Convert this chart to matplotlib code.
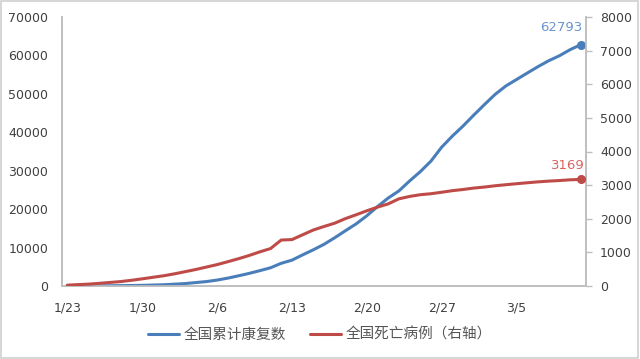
import matplotlib
matplotlib.use("Agg")
import matplotlib.pyplot as plt
from matplotlib.patches import Rectangle

plt.rcParams['font.family'] = ['DejaVu Sans', 'Noto Sans CJK SC']

dates = ['1/23', '1/24', '1/25', '1/26', '1/27', '1/28', '1/29', '1/30', '1/31',
         '2/1', '2/2', '2/3', '2/4', '2/5', '2/6', '2/7', '2/8', '2/9', '2/10',
         '2/11', '2/12', '2/13', '2/14', '2/15', '2/16', '2/17', '2/18', '2/19',
         '2/20', '2/21', '2/22', '2/23', '2/24', '2/25', '2/26', '2/27', '2/28',
         '2/29', '3/1', '3/2', '3/3', '3/4', '3/5', '3/6', '3/7', '3/8', '3/9',
         '3/10', '3/11']
recovered = [34, 38, 49, 51, 60, 103, 124, 171, 243, 328, 475, 632, 892, 1153,
             1540, 2050, 2649, 3281, 3996, 4740, 5911, 6723, 8096, 9419, 10844,
             12552, 14376, 16155, 18264, 20659, 22888, 24734, 27323, 29745,
             32495, 36117, 39002, 41625, 44462, 47204, 49856, 52045, 53726,
             55404, 57065, 58600, 59897, 61475, 62793]
deaths = [25, 41, 56, 80, 106, 132, 170, 213, 259, 304, 361, 425, 490, 563, 636,
          722, 811, 908, 1016, 1113, 1367, 1380, 1523, 1665, 1770, 1868, 2004,
          2118, 2236, 2345, 2442, 2592, 2663, 2715, 2744, 2788, 2835, 2870,
          2912, 2943, 2981, 3012, 3042, 3070, 3097, 3119, 3136, 3158, 3169]
left_ticks = [0, 10000, 20000, 30000, 40000, 50000, 60000, 70000]
right_ticks = [0, 1000, 2000, 3000, 4000, 5000, 6000, 7000, 8000]
label_recovered = '全国累计康复数'
label_deaths = '全国死亡病例（右轴）'

blue = '#4A7EBB'
red = '#BE4B48'
axis_gray = '#BFBFBF'
text_col = '#404040'

fig = plt.figure(figsize=(6.4, 3.59), dpi=100)
fig.patches.append(Rectangle((0.002, 0.003), 0.995, 0.993, transform=fig.transFigure,
                             fill=False, edgecolor='#D0D0D0', linewidth=1.2))

ax = fig.add_axes([62/640, 1-286/359, (586-62)/640, (286-17)/359])
ax2 = ax.twinx()

x = list(range(len(dates)))
l1, = ax.plot(x, recovered, color=blue, lw=2.2, solid_capstyle='round', zorder=3)
l2, = ax2.plot(x, deaths, color=red, lw=2.2, solid_capstyle='round', zorder=3)
ax.plot([x[-1]], [recovered[-1]], 'o', color=blue, ms=5.5, zorder=4)
ax2.plot([x[-1]], [deaths[-1]], 'o', color=red, ms=5.5, zorder=4)

ax.set_xlim(-0.5, len(dates) - 0.5)
ax.set_ylim(0, 70000)
ax2.set_ylim(0, 8000)
ax.set_yticks(left_ticks)
ax.set_yticklabels([str(v) for v in left_ticks])
ax2.set_yticks(right_ticks)
ax2.set_yticklabels([str(v) for v in right_ticks])
tick_idx = list(range(0, len(dates), 7))
ax.set_xticks(tick_idx)
ax.set_xticklabels([dates[i] for i in tick_idx])

for a in (ax, ax2):
    a.spines['top'].set_visible(False)
    for s in ('left', 'right', 'bottom'):
        a.spines[s].set_color(axis_gray)
        a.spines[s].set_linewidth(1.2)
ax.tick_params(axis='y', length=0, pad=10, labelsize=9, labelcolor=text_col)
ax.tick_params(axis='x', length=0, pad=11, labelsize=9, labelcolor=text_col)
ax2.tick_params(axis='y', length=4, width=1, color=axis_gray, pad=6, labelsize=9,
                labelcolor=text_col)

ax.annotate(str(recovered[-1]), xy=(x[-1], recovered[-1]), xytext=(1, 8),
            textcoords='offset points', ha='right', va='bottom', color='#6A95CF',
            fontsize=9.5)
ax2.annotate(str(deaths[-1]), xy=(x[-1], deaths[-1]), xytext=(3, 5),
             textcoords='offset points', ha='right', va='bottom', color='#D9645F',
             fontsize=9.5)

leg = fig.legend([l1, l2], [label_recovered, label_deaths], loc='center',
                 bbox_to_anchor=(0.5, 1-335/359), ncol=2, frameon=False,
                 handlelength=2.1, handletextpad=0.3, columnspacing=1.7,
                 prop={'family': ['Noto Sans CJK SC', 'DejaVu Sans'], 'size': 10.5})
for t in leg.get_texts():
    t.set_color('#555555')

fig.savefig('out.png', dpi=100)
